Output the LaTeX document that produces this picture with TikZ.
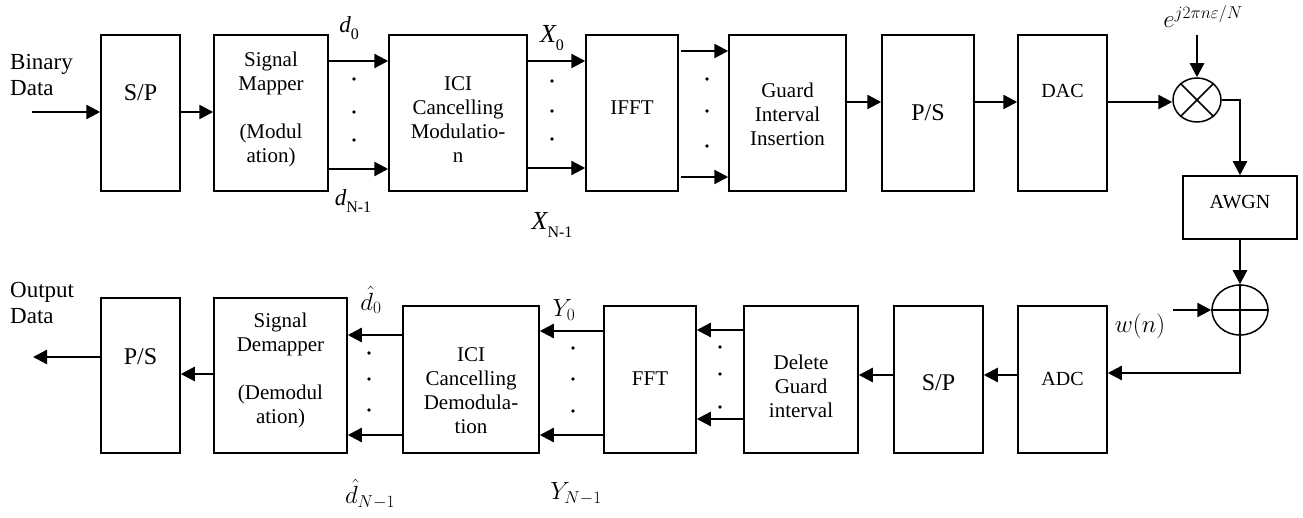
\documentclass[tikz,border=0pt]{standalone}
\usepackage{fontspec}
\setmainfont{Liberation Serif}
\usetikzlibrary{arrows.meta,shapes.geometric}
\newcommand{\wsub}[2]{{\itshape #1}\raisebox{-0.3em}{\fontsize{16}{16}\selectfont #2}}
\begin{document}
\begin{tikzpicture}[x=1pt,y=-1pt,
  box/.style={draw, line width=1.5pt, inner sep=0pt},
  txt/.style={font=\fontsize{21}{24}\selectfont, align=center, inner sep=0pt},
  big/.style={font=\fontsize{24}{28}\selectfont, inner sep=0pt},
  sml/.style={font=\fontsize{20}{23}\selectfont, inner sep=0pt},
  lbl/.style={font=\fontsize{23}{26}\selectfont, align=left, inner sep=0pt},
  wlbl/.style={font=\fontsize{23}{26}\selectfont, inner sep=0pt},
  mlbl/.style={font=\fontsize{27}{30}\selectfont, inner sep=0pt},
  arr/.style={line width=2.4pt, -{Triangle[length=14pt,width=14pt]}},
  dot/.style={fill=black}]
\useasboundingbox (0,0) rectangle (1303,518);

% ---------- top row boxes ----------
\node[box, minimum width=79pt, minimum height=156pt] (sp1) at (140.5,113) {};
\node[big] (tsp1) at (140.5,93) {S/P};
\node[box, minimum width=114pt, minimum height=156pt] (map) at (271,113) {};
\node[txt] (tmap) at (271,109) {Signal\\Mapper\\[24pt](Modul\\ation)};
\node[box, minimum width=138pt, minimum height=156pt] (ici1) at (458,113) {};
\node[txt] (tici1) at (458,120) {ICI\\Cancelling\\Modulatio-\\n};
\node[box, minimum width=92pt, minimum height=156pt] (ifft) at (632,113) {};
\node[txt] (tifft) at (632,108) {IFFT};
\node[box, minimum width=117pt, minimum height=156pt] (gii) at (787.5,113) {};
\node[txt] (tgii) at (787.5,114) {Guard\\Interval\\Insertion};
\node[box, minimum width=92pt, minimum height=156pt] (ps1) at (928,113) {};
\node[big] (tps1) at (928,113) {P/S};
\node[box, minimum width=89pt, minimum height=156pt] (dac) at (1062.5,113) {};
\node[sml] (tdac) at (1062.5,91) {DAC};

\node[box, ellipse, minimum width=48pt, minimum height=44pt] (mult) at (1197,100) {};
\draw[line width=1.5pt] (mult.45) -- (mult.225) (mult.135) -- (mult.315);

\node[box, minimum width=114pt, minimum height=63pt] (awgn) at (1240,207.5) {};
\node[sml] (tawgn) at (1240,202) {AWGN};

\node[box, ellipse, minimum width=56pt, minimum height=50pt] (add) at (1240,310) {};
\draw[line width=1.5pt] (add.north) -- (add.south) (add.west) -- (add.east);

% ---------- bottom row boxes ----------
\node[box, minimum width=89pt, minimum height=147pt] (adc) at (1062.5,379.5) {};
\node[sml] (tadc) at (1062.5,379) {ADC};
\node[box, minimum width=89pt, minimum height=147pt] (sp2) at (938.5,379.5) {};
\node[big] (tsp2) at (938.5,383) {S/P};
\node[box, minimum width=114pt, minimum height=147pt] (dgi) at (801,379.5) {};
\node[txt] (tdgi) at (801,386) {Delete\\Guard\\interval};
\node[box, minimum width=92pt, minimum height=147pt] (fft) at (650,379.5) {};
\node[txt] (tfft) at (650,379) {FFT};
\node[box, minimum width=136pt, minimum height=147pt] (ici2) at (471,379.5) {};
\node[txt] (tici2) at (471,391) {ICI\\Cancelling\\Demodula-\\tion};
\node[box, minimum width=133pt, minimum height=155pt] (demap) at (280.5,375.5) {};
\node[txt] (tdemap) at (280.5,370) {Signal\\Demapper\\[24pt](Demodul\\ation)};
\node[box, minimum width=79pt, minimum height=155pt] (ps2) at (140.5,375.5) {};
\node[big] (tps2) at (140.5,357) {P/S};

% ---------- outer labels ----------
\node[lbl, anchor=west] (bin) at (10,75) {Binary\\Data};
\node[lbl, anchor=west] (out) at (10,303) {Output\\Data};
\coordinate (inA) at (32,112);
\coordinate (outA) at (33,357);

\node[wlbl] (ld0) at (349,28) {\wsub{d}{0}};
\node[wlbl] (ldn) at (353,201) {\wsub{d}{N-1}};
\node[wlbl, font=\fontsize{26}{28}\selectfont] (lx0) at (552,38) {\wsub{X}{0}};
\node[wlbl, font=\fontsize{26}{28}\selectfont] (lxn) at (552,225) {\wsub{X}{N-1}};
\node[mlbl] (lexp) at (1203,17) {$e^{j2\pi n\varepsilon/N}$};
\node[mlbl] (lw) at (1140,326) {$w(n)$};
\node[mlbl] (ly0) at (564,310) {$Y_0$};
\node[mlbl] (lyn) at (576,494) {$Y_{N-1}$};
\node[mlbl] (lh0) at (371,300) {$\hat{d}_0$};
\node[mlbl] (lhn) at (370,494) {$\hat{d}_{N-1}$};

% ---------- top arrows ----------
\draw[arr] (inA) -- (sp1.west |- inA);
\draw[arr] (sp1.east |- 0,112) -- (map.west |- 0,112);
\draw[arr] (map.east |- 0,61) -- (ici1.west |- 0,61);
\draw[arr] (map.east |- 0,169) -- (ici1.west |- 0,169);
\draw[arr] (ici1.east |- 0,61) -- (ifft.west |- 0,61);
\draw[arr] (ici1.east |- 0,168) -- (ifft.west |- 0,168);
\coordinate (g1) at (681,51);
\coordinate (g2) at (681,177);
\draw[arr] (g1) -- (gii.west |- g1);
\draw[arr] (g2) -- (gii.west |- g2);
\draw[arr] (gii.east |- 0,102) -- (ps1.west |- 0,102);
\draw[arr] (ps1.east |- 0,102) -- (dac.west |- 0,102);
\draw[arr] (dac.east |- 0,102) -- (mult.west |- 0,102);
\coordinate (expA) at (1197,35);
\draw[arr] (expA) -- (mult.north);
\draw[arr] (mult.east) -| (awgn.north);
\draw[arr] (awgn.south) -- (add.north);
\coordinate (wA) at (1173,310);
\draw[arr] (wA) -- (add.west);
\draw[arr] (add.south) |- (adc.east |- 0,373);

% ---------- bottom arrows ----------
\draw[arr] (adc.west |- 0,375) -- (sp2.east |- 0,375);
\draw[arr] (sp2.west |- 0,375) -- (dgi.east |- 0,375);
\draw[arr] (dgi.west |- 0,330) -- (fft.east |- 0,330);
\draw[arr] (dgi.west |- 0,419) -- (fft.east |- 0,419);
\draw[arr] (fft.west |- 0,331) -- (ici2.east |- 0,331);
\draw[arr] (fft.west |- 0,435) -- (ici2.east |- 0,435);
\draw[arr] (ici2.west |- 0,335) -- (demap.east |- 0,335);
\draw[arr] (ici2.west |- 0,435) -- (demap.east |- 0,435);
\draw[arr] (demap.west |- 0,374) -- (ps2.east |- 0,374);
\draw[arr] (ps2.west |- outA) -- (outA);

% ---------- dots ----------
\foreach \x/\y in {354/79,354/112,354/140, 552/81,552/111,552/139, 707/79,707/111,707/146,
                   720/347,720/374,720/407, 573/348,573/379,573/411, 369/353,369/379,369/410}
  \fill[dot] (\x,\y) circle (1.8pt);
\end{tikzpicture}
\end{document}
